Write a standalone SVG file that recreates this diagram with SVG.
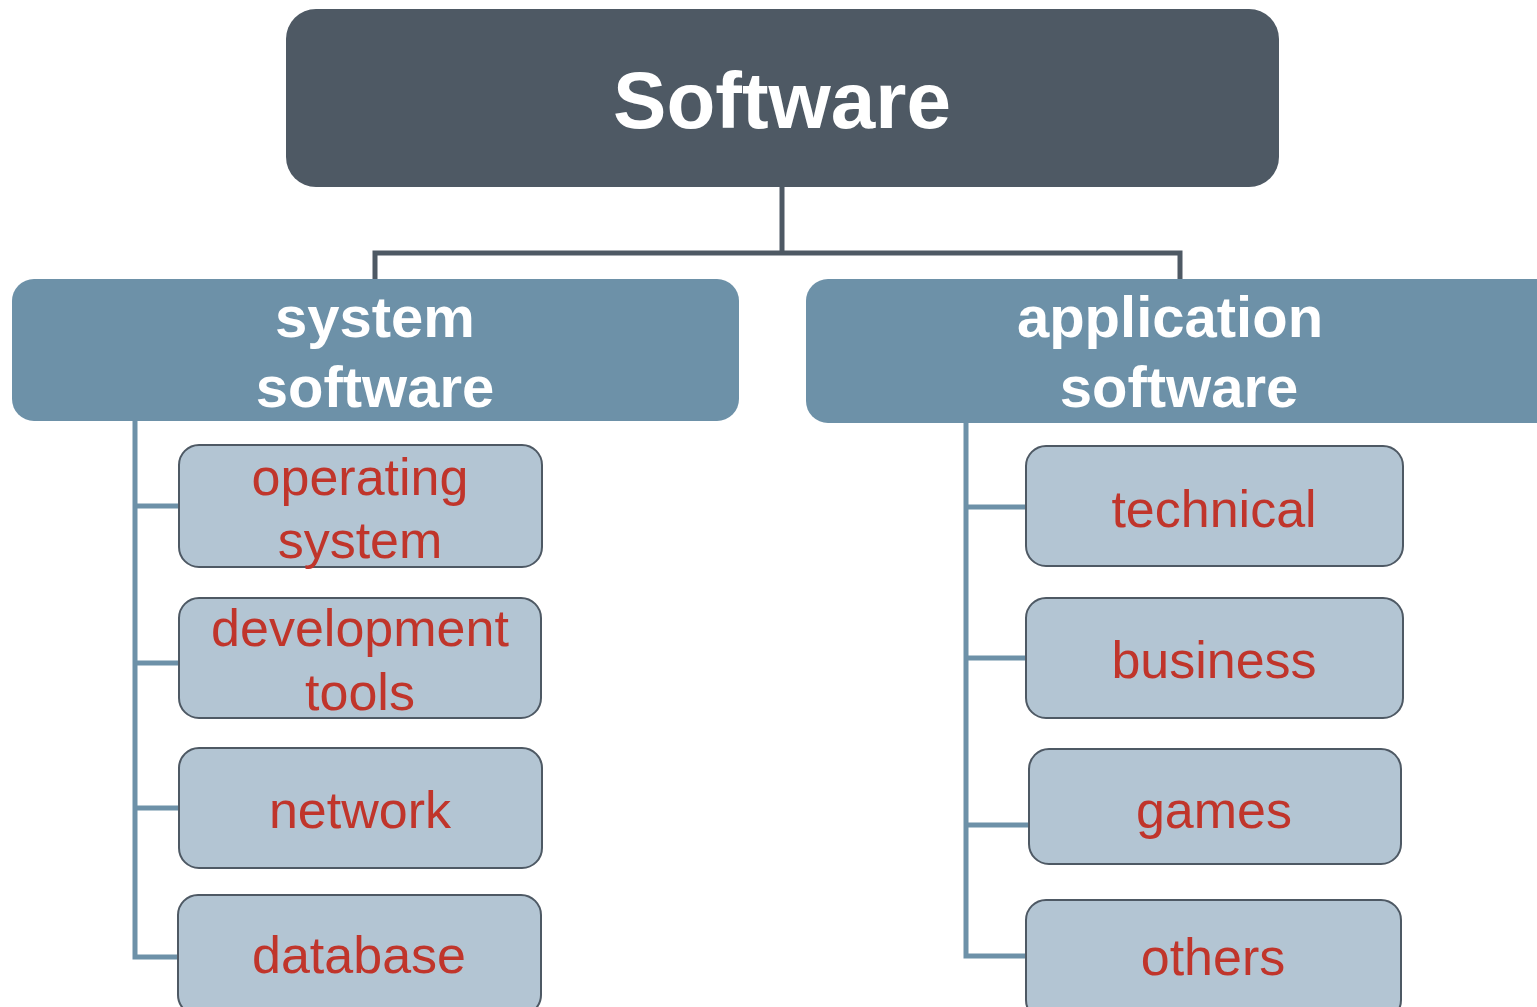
<svg xmlns="http://www.w3.org/2000/svg" width="1537" height="1007" viewBox="0 0 1537 1007">
<style>
.root{fill:#4e5964}
.cat{fill:#6d91a8}
.leaf{fill:#b3c5d3;stroke:#4e5964;stroke-width:2}
.t1{font-family:"Liberation Sans",Arial,sans-serif;font-weight:bold;font-size:80px;fill:#fff;text-anchor:middle}
.t2{font-family:"Liberation Sans",Arial,sans-serif;font-weight:bold;font-size:58px;fill:#fff;text-anchor:middle}
.t3{font-family:"Liberation Sans",Arial,sans-serif;font-size:52px;fill:#c0352b;text-anchor:middle}
.c1{fill:none;stroke:#4e5964;stroke-width:5}
.c2{fill:none;stroke:#6d91a8;stroke-width:5}
</style>
<rect width="1537" height="1007" fill="#fff"/>
<g id="connectors">
<path class="c1" d="M782 187V253M375 282V253H1180V282"/>
<path class="c2" d="M135 421V957H179M135 506H179M135 663H179M135 808H179"/>
<path class="c2" d="M966 423V956H1026M966 507H1026M966 658H1026M966 825H1029"/>
</g>
<g id="software">
<rect class="root" x="286" y="9" width="993" height="178" rx="30"/>
<text class="t1" x="782" y="128">Software</text>
</g>
<g id="system-software">
<rect class="cat" x="12" y="279" width="727" height="142" rx="22"/>
<text class="t2" x="375" y="337">system</text>
<text class="t2" x="375" y="407">software</text>
</g>
<g id="application-software">
<rect class="cat" x="806" y="279" width="760" height="144" rx="22"/>
<text class="t2" x="1170" y="337">application</text>
<text class="t2" x="1179" y="407">software</text>
</g>
<g id="operating-system">
<rect class="leaf" x="179" y="445" width="363" height="122" rx="20"/>
<text class="t3" x="360" y="495">operating</text>
<text class="t3" x="360" y="558">system</text>
</g>
<g id="development-tools">
<rect class="leaf" x="179" y="598" width="362" height="120" rx="20"/>
<text class="t3" x="360" y="646">development</text>
<text class="t3" x="360" y="710">tools</text>
</g>
<g id="network">
<rect class="leaf" x="179" y="748" width="363" height="120" rx="20"/>
<text class="t3" x="360" y="828">network</text>
</g>
<g id="database">
<rect class="leaf" x="178" y="895" width="363" height="120" rx="20"/>
<text class="t3" x="359" y="973">database</text>
</g>
<g id="technical">
<rect class="leaf" x="1026" y="446" width="377" height="120" rx="20"/>
<text class="t3" x="1214" y="527">technical</text>
</g>
<g id="business">
<rect class="leaf" x="1026" y="598" width="377" height="120" rx="20"/>
<text class="t3" x="1214" y="678">business</text>
</g>
<g id="games">
<rect class="leaf" x="1029" y="749" width="372" height="115" rx="20"/>
<text class="t3" x="1214" y="828">games</text>
</g>
<g id="others">
<rect class="leaf" x="1026" y="900" width="375" height="120" rx="20"/>
<text class="t3" x="1213" y="975">others</text>
</g>
</svg>
